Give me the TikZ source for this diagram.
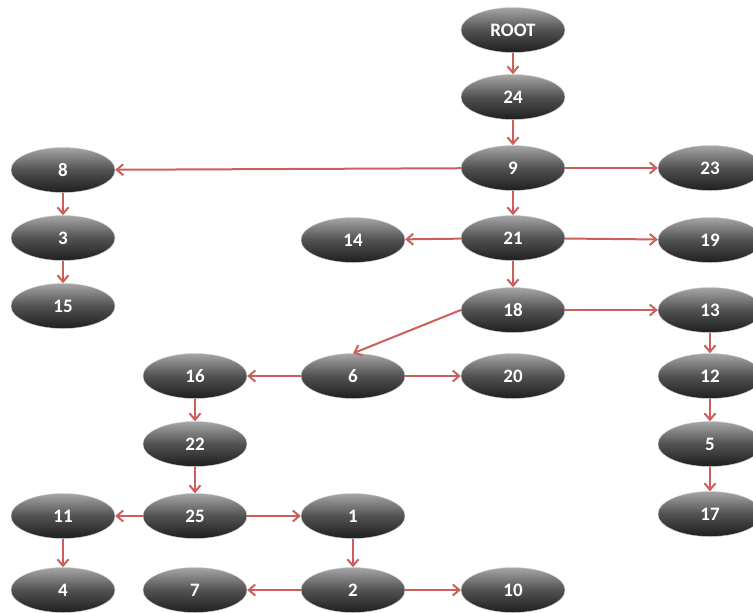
\documentclass[tikz,border=0pt]{standalone}
\usepackage{fontspec}
\setmainfont{Carlito}
\usetikzlibrary{arrows.meta,shapes.geometric}
\definecolor{edgered}{RGB}{205,95,90}
\tikzset{
  bead/.style={ellipse, minimum width=104pt, minimum height=45pt, inner sep=0pt,
    top color=black!35, bottom color=black!88, middle color=black!68,
    draw=black!20, line width=0.4pt, text=white, font=\bfseries\fontsize{19}{19}\selectfont},
  link/.style={draw=edgered, line width=2pt, -{Straight Barb[length=6.5pt,width=11pt,line width=2pt]}}
}
\begin{document}
\begin{tikzpicture}[x=1pt,y=-1pt]
\useasboundingbox (0,0) rectangle (753,613);
\node[bead] (root) at (513,30) {ROOT};
\node[bead] (n24) at (513,97) {24};
\node[bead] (n9) at (513,168) {9};
\node[bead] (n23) at (710,168) {23};
\node[bead] (n8) at (63,170) {8};
\node[bead] (n3) at (63,238) {3};
\node[bead] (n15) at (63,306) {15};
\node[bead] (n14) at (353,240) {14};
\node[bead] (n21) at (513,238) {21};
\node[bead] (n19) at (710,240) {19};
\node[bead] (n18) at (513,310) {18};
\node[bead] (n13) at (710,310) {13};
\node[bead] (n6) at (353,376) {6};
\node[bead] (n16) at (195,376) {16};
\node[bead] (n20) at (513,376) {20};
\node[bead] (n12) at (710,376) {12};
\node[bead] (n22) at (195,444) {22};
\node[bead] (n5) at (710,444) {5};
\node[bead] (n11) at (63,516) {11};
\node[bead] (n25) at (195,516) {25};
\node[bead] (n1) at (353,516) {1};
\node[bead] (n17) at (710,514) {17};
\node[bead] (n4) at (63,590) {4};
\node[bead] (n7) at (195,590) {7};
\node[bead] (n2) at (353,590) {2};
\node[bead] (n10) at (513,590) {10};
\draw[link] (root) -- (n24);
\draw[link] (n24) -- (n9);
\draw[link] (n9) -- (n8);
\draw[link] (n9) -- (n23);
\draw[link] (n9) -- (n21);
\draw[link] (n8) -- (n3);
\draw[link] (n3) -- (n15);
\draw[link] (n21) -- (n14);
\draw[link] (n21) -- (n19);
\draw[link] (n21) -- (n18);
\draw[link] (n18.west) -- (n6.north);
\draw[link] (n18) -- (n13);
\draw[link] (n6) -- (n16);
\draw[link] (n6) -- (n20);
\draw[link] (n16) -- (n22);
\draw[link] (n22) -- (n25);
\draw[link] (n25) -- (n11);
\draw[link] (n25) -- (n1);
\draw[link] (n11) -- (n4);
\draw[link] (n1) -- (n2);
\draw[link] (n2) -- (n7);
\draw[link] (n2) -- (n10);
\draw[link] (n13) -- (n12);
\draw[link] (n12) -- (n5);
\draw[link] (n5) -- (n17);
\end{tikzpicture}
\end{document}
